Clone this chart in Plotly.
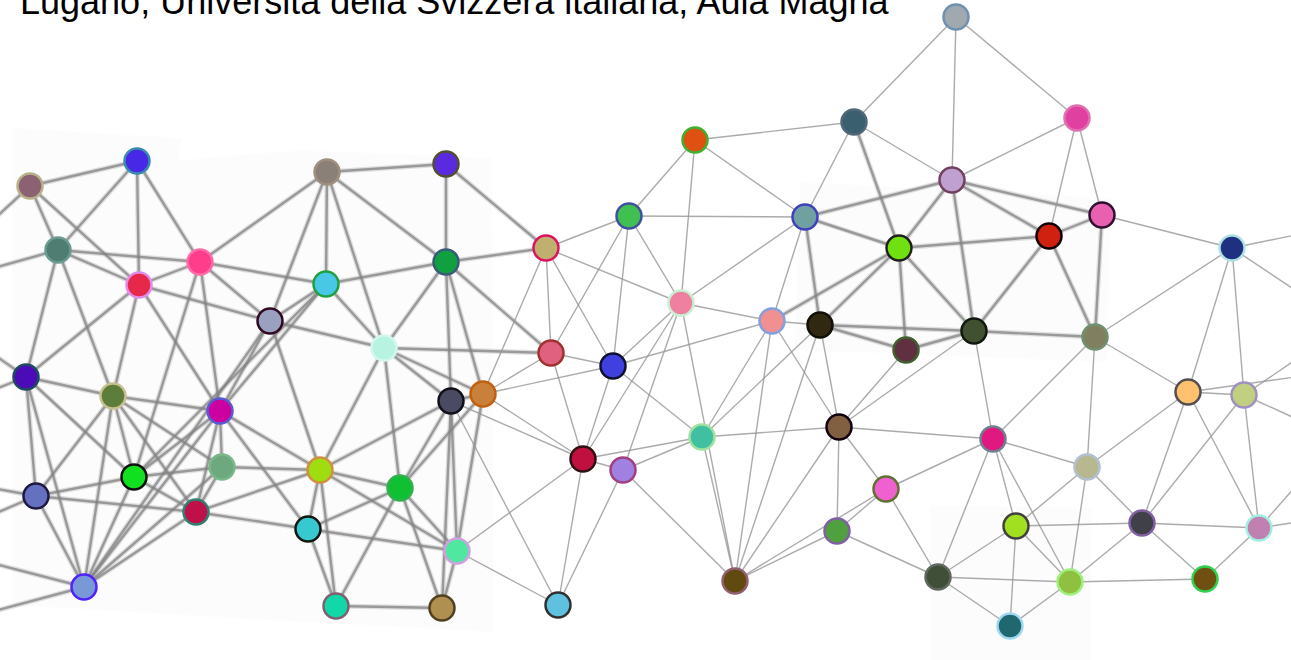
import plotly.graph_objects as go

# ---------------- data ----------------
title_text = "Lugano, Università della Svizzera italiana, Aula Magna"

node_x = [30, 137, 58, 139, 200, 26, 113, 220, 36, 134, 222, 196, 84, 270, 327, 326, 446, 446, 384, 451,
          483, 320, 400, 308, 457, 336, 442, 546, 551, 613, 583, 623, 558, 629, 695, 681, 702, 735, 805, 854,
          956, 1077, 952, 1102, 899, 1049, 1232, 772, 820, 906, 974, 1095, 839, 993, 886, 837, 938, 1016, 1087, 1070,
          1010, 1142, 1188, 1244, 1259, 1205]
node_y = [186, 161, 250, 285, 262, 377, 396, 411, 496, 477, 467, 512, 587, 321, 172, 284, 164, 262, 348, 401,
          394, 470, 488, 529, 551, 606, 608, 248, 353, 366, 459, 470, 605, 216, 140, 303, 437, 581, 217, 122,
          17, 118, 180, 215, 248, 236, 248, 321, 325, 350, 331, 337, 427, 439, 489, 531, 577, 526, 467, 582,
          626, 523, 392, 395, 528, 579]
node_fill = ["#8c6272", "#4628e6", "#4f7d72", "#e8284a", "#ff3d8b", "#4b0cb8", "#5d7d3a", "#cc00a0", "#6670c0", "#10e020",
             "#6ea87e", "#c0104a", "#7898d8", "#9aa0c0", "#8a8078", "#48c8e6", "#5a2ae0", "#10a040", "#b8f2e0", "#4a4a62",
             "#c8803a", "#a0dd10", "#10c030", "#38c8d0", "#50e8a0", "#10d8a8", "#b09050", "#c0b070", "#e06080", "#4040e0",
             "#c01040", "#a080e0", "#60c0e0", "#40c050", "#e05010", "#f080a0", "#40c0a0", "#604a10", "#70a0a0", "#3a6070",
             "#a0a8b0", "#e040a0", "#c0a0d0", "#e860b0", "#70e010", "#d02010", "#203080", "#f09090", "#302810", "#603040",
             "#405030", "#808060", "#806040", "#e01880", "#f060d0", "#50a040", "#405038", "#a0e020", "#b8b890", "#90c040",
             "#206870", "#404048", "#ffc070", "#c0d080", "#c080b0", "#705010"]
node_border = ["#b8b08a", "#3a8ab0", "#6a9a90", "#e08ce8", "#ff6aa8", "#1e4a60", "#c8c090", "#5a5ad0", "#201840", "#101010",
               "#7ab88a", "#308070", "#5020ff", "#300820", "#a09080", "#20a040", "#505030", "#3a5a7a", "#d0f8ec", "#101018",
               "#c06010", "#d09040", "#30b050", "#101810", "#d0a0e0", "#806070", "#504020", "#e01060", "#a03030", "#101030",
               "#301010", "#a04080", "#303030", "#4050a0", "#40b030", "#c8f0d0", "#a0e0a0", "#906070", "#4040c0", "#506878",
               "#7090b0", "#e070b0", "#704060", "#301030", "#202020", "#100000", "#b0e0e0", "#80a0e0", "#101008", "#406030",
               "#101810", "#709070", "#100010", "#708090", "#607030", "#8060a0", "#606860", "#404040", "#b0c0d0", "#a0f080",
               "#a0d8f0", "#8060a0", "#505050", "#a090c0", "#a0f0e0", "#30d050"]

edge_src = [0, 0, 0, 1, 1, 1, 2, 2, 2, 2, 3, 3, 3, 3, 3, 4, 4, 4, 4, 4,
            5, 5, 5, 5, 6, 6, 6, 6, 6, 6, 7, 7, 7, 7, 7, 7, 7, 8, 8, 8,
            9, 9, 9, 9, 10, 10, 10, 11, 11, 12, 12, 12, 12, 13, 13, 13, 13, 14, 14, 14,
            14, 15, 15, 15, 15, 16, 16, 17, 17, 17, 17, 17, 18, 18, 18, 18, 18, 19, 19, 19,
            19, 19, 19, 19, 20, 20, 20, 20, 20, 21, 21, 21, 21, 21, 22, 22, 22, 22, 23, 23,
            23, 24, 24, 24, 25, 25, 27, 27, 27, 27, 27, 28, 28, 28, 29, 29, 29, 29, 29, 30,
            30, 30, 30, 31, 31, 31, 31, 33, 33, 33, 33, 34, 34, 34, 35, 35, 35, 35, 36, 36,
            36, 36, 37, 37, 37, 37, 37, 38, 38, 38, 38, 38, 39, 39, 39, 40, 40, 41, 41, 41,
            42, 42, 42, 42, 42, 43, 43, 43, 43, 44, 44, 44, 44, 44, 45, 45, 46, 46, 46, 47,
            47, 48, 48, 48, 48, 49, 49, 50, 50, 50, 51, 51, 51, 52, 52, 52, 52, 53, 53, 53,
            53, 53, 53, 54, 54, 55, 56, 56, 56, 57, 57, 57, 57, 58, 58, 58, 59, 59, 59, 61,
            61, 61, 61, 62, 62, 63, 64, 24, 32, 32]
edge_dst = [1, 2, 3, 2, 3, 4, 3, 4, 5, 6, 4, 5, 6, 7, 13, 13, 14, 15, 7, 9,
            6, 8, 9, 12, 7, 8, 9, 10, 11, 12, 9, 10, 11, 13, 15, 21, 23, 9, 11, 12,
            10, 11, 12, 15, 11, 21, 12, 21, 23, 13, 11, 7, 9, 14, 15, 18, 21, 15, 16, 17,
            18, 17, 18, 9, 7, 17, 27, 27, 18, 19, 20, 28, 19, 20, 28, 21, 22, 20, 21, 22,
            24, 30, 32, 26, 28, 29, 30, 24, 22, 22, 23, 25, 24, 10, 24, 26, 23, 25, 24, 25,
            22, 30, 32, 26, 26, 22, 33, 35, 28, 29, 20, 29, 30, 33, 33, 35, 47, 30, 36, 32,
            31, 36, 35, 35, 36, 37, 32, 34, 38, 35, 28, 39, 35, 38, 38, 47, 37, 30, 37, 47,
            52, 48, 47, 48, 52, 55, 54, 39, 42, 44, 47, 48, 40, 42, 44, 41, 42, 42, 45, 43,
            44, 45, 50, 43, 38, 45, 46, 51, 41, 45, 48, 49, 50, 47, 50, 51, 51, 62, 63, 48,
            52, 49, 50, 52, 36, 50, 52, 51, 53, 52, 53, 62, 58, 53, 54, 55, 49, 54, 56, 57,
            58, 59, 52, 55, 56, 56, 57, 59, 60, 58, 59, 60, 61, 59, 61, 62, 61, 60, 65, 62,
            63, 64, 65, 63, 64, 64, 65, 20, 19, 31]

stub_node = [0, 2, 5, 5, 8, 8, 12, 12, 46, 46, 62, 63, 63, 64, 64]
stub_x = [-20, -20, -20, -20, -20, -20, -20, -20, 1310, 1310, 1310, 1310, 1310, 1310, 1310]
stub_y = [232, 272, 395, 345, 486, 520, 615, 560, 232, 300, 375, 350, 425, 520, 470]

# ---------------- figure ----------------
fig = go.Figure()

# faint photographic patches behind the network
patches = [
    "M 12 128 L 182 138 L 178 160 L 300 150 L 492 158 L 494 632 L 300 622 L 12 605 Z",
    "M 800 182 L 1112 198 L 1106 362 L 795 350 Z",
    "M 930 505 L 1092 508 L 1090 660 L 930 660 Z",
]
for p in patches:
    fig.add_shape(type="path", path=p, fillcolor="rgba(0,0,0,0.013)", line=dict(width=0), layer="below")

pairs = set()
for a, b in zip(edge_src, edge_dst):
    if a != b:
        pairs.add((min(a, b), max(a, b)))
pairs = sorted(pairs)


def is_heavy(a, b):
    mx = (node_x[a] + node_x[b]) / 2
    my = (node_y[a] + node_y[b]) / 2
    if mx < 500:
        return True
    if 800 < mx < 1110 and 180 < my < 360:
        return True
    return False


hx, hy, lx, ly = [], [], [], []
for a, b in pairs:
    if is_heavy(a, b):
        hx += [node_x[a], node_x[b], None]
        hy += [node_y[a], node_y[b], None]
    else:
        lx += [node_x[a], node_x[b], None]
        ly += [node_y[a], node_y[b], None]
for n, sx, sy in zip(stub_node, stub_x, stub_y):
    if node_x[n] < 500:
        hx += [node_x[n], sx, None]
        hy += [node_y[n], sy, None]
    else:
        lx += [node_x[n], sx, None]
        ly += [node_y[n], sy, None]

fig.add_trace(go.Scatter(x=hx, y=hy, mode="lines", hoverinfo="skip",
                         line=dict(color="rgba(170,170,170,0.35)", width=5)))
fig.add_trace(go.Scatter(x=hx, y=hy, mode="lines", hoverinfo="skip",
                         line=dict(color="rgba(130,130,130,0.75)", width=2.4)))
fig.add_trace(go.Scatter(x=lx, y=ly, mode="lines", hoverinfo="skip",
                         line=dict(color="rgba(150,150,150,0.8)", width=1.4)))

fig.add_trace(go.Scatter(
    x=node_x, y=node_y, mode="markers", hoverinfo="skip",
    marker=dict(size=25, color=node_fill, line=dict(color=node_border, width=2.5)),
))

fig.add_annotation(
    x=18, y=24, xref="x", yref="y", xanchor="left", yanchor="bottom",
    text=title_text, showarrow=False,
    font=dict(family="Liberation Sans, Arial, sans-serif", size=36, color="#000000"),
)

fig.update_layout(
    width=1291, height=660,
    margin=dict(l=0, r=0, t=0, b=0),
    paper_bgcolor="white", plot_bgcolor="white",
    showlegend=False,
    xaxis=dict(range=[0, 1291], visible=False, fixedrange=True),
    yaxis=dict(range=[660, 0], visible=False, fixedrange=True),
)

fig.write_html("out.html", config={"displayModeBar": False, "staticPlot": True},
               post_script="document.body.style.margin='0px';")
